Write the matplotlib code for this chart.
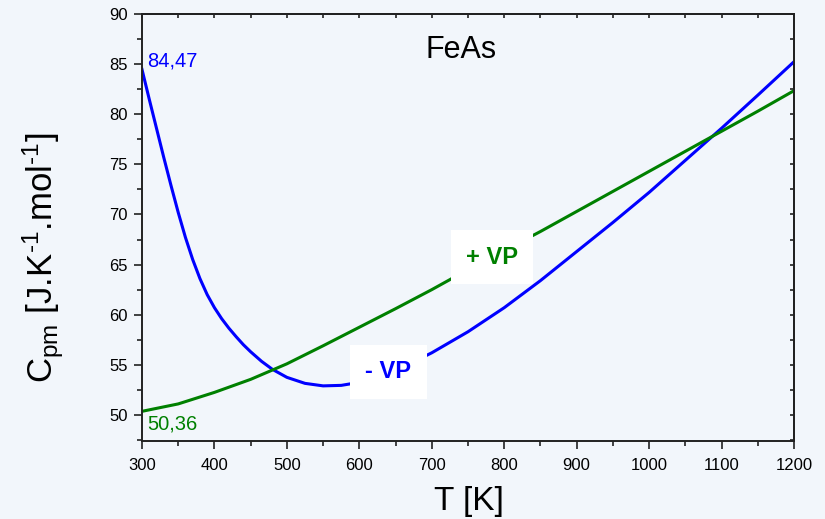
import matplotlib
matplotlib.use("Agg")
import matplotlib.pyplot as plt
from matplotlib.ticker import MultipleLocator

plt.rcParams["font.family"] = ["Liberation Sans", "DejaVu Sans"]
plt.rcParams["mathtext.fontset"] = "custom"
plt.rcParams["mathtext.rm"] = "Liberation Sans"
plt.rcParams["mathtext.it"] = "Liberation Sans:italic"
plt.rcParams["mathtext.bf"] = "Liberation Sans:bold"

BG = "#f2f6fb"

# Cp of FeAs, with (+VP) and without (-VP) the volume/pressure term
T_minus = [300, 310, 320, 330, 340, 350, 360, 370, 380, 390, 400, 410, 420,
           430, 440, 450, 465, 480, 500, 525, 550, 575, 600, 625, 650, 675,
           700, 750, 800, 850, 900, 950, 1000, 1050, 1100, 1150, 1200]
cp_minus = [84.47, 81.5, 78.6, 75.7, 72.9, 70.2, 67.7, 65.5, 63.6, 62.0, 60.7,
            59.6, 58.65, 57.8, 57.0, 56.3, 55.35, 54.55, 53.75, 53.15, 52.9,
            52.95, 53.25, 53.8, 54.5, 55.3, 56.2, 58.3, 60.7, 63.4, 66.3,
            69.2, 72.2, 75.4, 78.6, 81.9, 85.24]

T_plus = [300, 350, 400, 450, 500, 550, 600, 650, 700, 750, 800, 850, 900,
          950, 1000, 1050, 1100, 1150, 1200]
cp_plus = [50.36, 51.1, 52.25, 53.55, 55.1, 56.9, 58.75, 60.6, 62.5, 64.5,
           66.4, 68.3, 70.3, 72.3, 74.3, 76.3, 78.3, 80.3, 82.35]

fig = plt.figure(figsize=(8.25, 5.19), dpi=100, facecolor=BG)
ax = fig.add_axes([142 / 825, 1 - 441 / 519, 652 / 825, 427 / 519])
ax.set_facecolor(BG)

ax.plot(T_minus, cp_minus, color="#0000ff", lw=2.2)
ax.plot(T_plus, cp_plus, color="#008000", lw=2.2)

# end-point values
ax.text(307, 84.75, f"{cp_minus[0]:.2f}".replace(".", ","), color="#0000ff",
        fontsize=14.5, ha="left", va="baseline")
ax.text(307, 48.5, f"{cp_plus[0]:.2f}".replace(".", ","), color="#008000",
        fontsize=14.5, ha="left", va="baseline")

box = dict(boxstyle="square,pad=0.65", fc="white", ec="none")
ax.text(783, 65.75, "+ VP", color="#008000", fontsize=17, fontweight="bold",
        ha="center", va="center", bbox=box)
ax.text(640, 54.3, "- VP", color="#0000ff", fontsize=17, fontweight="bold",
        ha="center", va="center", bbox=box)

ax.text(741, 85.6, "FeAs", fontsize=22, ha="center", va="baseline")

ax.set_xlim(300, 1200)
ax.set_ylim(47.4, 90)
ax.xaxis.set_major_locator(MultipleLocator(100))
ax.xaxis.set_minor_locator(MultipleLocator(50))
ax.set_yticks(range(50, 91, 5))
ax.yaxis.set_minor_locator(MultipleLocator(2.5))

for s in ax.spines.values():
    s.set_linewidth(1.4)
    s.set_color("#222222")

ax.tick_params(which="both", direction="out", width=1.2, color="#222222",
               labelsize=12)
ax.tick_params(which="major", length=6)
ax.tick_params(which="minor", length=3.5)
ax.tick_params(axis="x", pad=6)
ax.tick_params(axis="y", pad=4)

# short inward ticks on the top and right frame
top = ax.secondary_xaxis("top")
right = ax.secondary_yaxis("right")
top.xaxis.set_major_locator(MultipleLocator(100))
top.xaxis.set_minor_locator(MultipleLocator(50))
right.yaxis.set_major_locator(MultipleLocator(5))
right.yaxis.set_minor_locator(MultipleLocator(2.5))
for sec in (top, right):
    sec.tick_params(which="both", direction="in", length=3, width=1.2,
                    color="#222222", labeltop=False, labelright=False)
    for s in sec.spines.values():
        s.set_linewidth(1.4)
        s.set_color("#222222")

ax.set_xlabel("T [K]", fontsize=24)
ax.xaxis.set_label_coords(0.5015, -0.105)
ax.set_ylabel("C$_{\\mathrm{pm}}$ [J.K$^{\\mathrm{\u2010}1}$.mol$^{\\mathrm{\u2010}1}$]",
              fontsize=25)
ax.yaxis.set_label_coords(-0.117, 0.43)

fig.savefig("out.png", dpi=100, facecolor=BG)
